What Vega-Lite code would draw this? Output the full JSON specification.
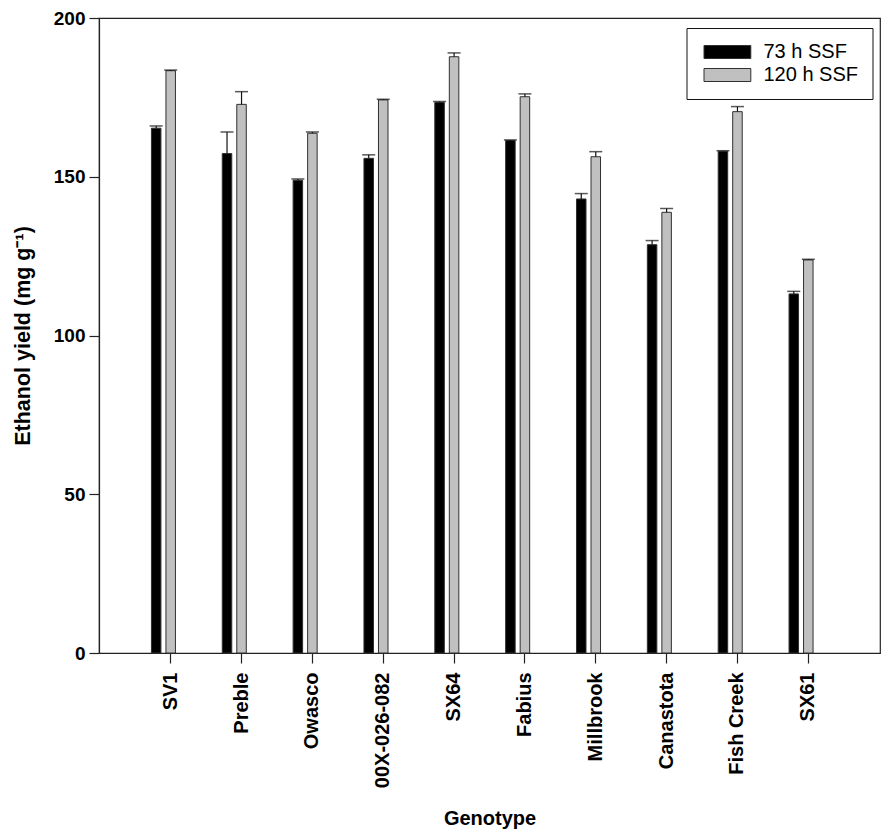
{
  "$schema": "https://vega.github.io/schema/vega-lite/v6.json",
  "autosize": "none",
  "padding": {"left": 99, "top": 18, "right": 12, "bottom": 187},
  "width": 781,
  "height": 635,
  "config": {
    "font": "Liberation Sans",
    "view": {"stroke": "#222", "strokeWidth": 1.2},
    "axis": {"grid": false, "domainColor": "#222", "tickColor": "#222", "labelColor": "#000", "titleColor": "#000", "domainWidth": 1.2, "tickWidth": 1.2}
  },
  "data": {
    "values": [
      {"genotype": "SV1", "series": "73 h SSF", "value": 165.3, "hi": 166.0},
      {"genotype": "SV1", "series": "120 h SSF", "value": 183.4, "hi": 183.6},
      {"genotype": "Preble", "series": "73 h SSF", "value": 157.3, "hi": 164.1},
      {"genotype": "Preble", "series": "120 h SSF", "value": 172.8, "hi": 176.8},
      {"genotype": "Owasco", "series": "73 h SSF", "value": 148.9, "hi": 149.3},
      {"genotype": "Owasco", "series": "120 h SSF", "value": 163.7, "hi": 164.1},
      {"genotype": "00X-026-082", "series": "73 h SSF", "value": 155.8, "hi": 156.9},
      {"genotype": "00X-026-082", "series": "120 h SSF", "value": 174.2, "hi": 174.4},
      {"genotype": "SX64", "series": "73 h SSF", "value": 173.4, "hi": 173.7},
      {"genotype": "SX64", "series": "120 h SSF", "value": 187.8, "hi": 189.0},
      {"genotype": "Fabius", "series": "73 h SSF", "value": 161.4, "hi": 161.6},
      {"genotype": "Fabius", "series": "120 h SSF", "value": 175.2, "hi": 176.1},
      {"genotype": "Millbrook", "series": "73 h SSF", "value": 143.0, "hi": 144.7},
      {"genotype": "Millbrook", "series": "120 h SSF", "value": 156.3, "hi": 157.9},
      {"genotype": "Canastota", "series": "73 h SSF", "value": 128.6, "hi": 129.9},
      {"genotype": "Canastota", "series": "120 h SSF", "value": 138.8, "hi": 140.0},
      {"genotype": "Fish Creek", "series": "73 h SSF", "value": 158.0, "hi": 158.2},
      {"genotype": "Fish Creek", "series": "120 h SSF", "value": 170.5, "hi": 172.1},
      {"genotype": "SX61", "series": "73 h SSF", "value": 113.1, "hi": 113.9},
      {"genotype": "SX61", "series": "120 h SSF", "value": 123.8, "hi": 124.0}
    ]
  },
  "encoding": {
    "x": {
      "field": "genotype", "type": "nominal", "sort": null,
      "scale": {"paddingInner": 0.456, "paddingOuter": 0.74},
      "axis": {
        "title": "Genotype", "titleFontSize": 20, "titleFontWeight": "bold", "titlePadding": 21,
        "labelAngle": -90, "labelAlign": "right", "labelBaseline": "middle",
        "labelFontSize": 20, "labelFontWeight": "bold", "labelPadding": 9, "tickSize": 10
      }
    },
    "xOffset": {
      "field": "series", "type": "nominal",
      "scale": {"domain": ["73 h SSF", "120 h SSF", "_pad"], "paddingInner": 0.345, "paddingOuter": 0}
    }
  },
  "layer": [
    {
      "mark": {"type": "bar", "stroke": "#303030", "strokeWidth": 1},
      "encoding": {
        "y": {
          "field": "value", "type": "quantitative",
          "scale": {"domain": [0, 200], "nice": false},
          "axis": {
            "title": "Ethanol yield (mg g⁻¹)", "titleFontSize": 21.5, "titleFontWeight": "bold", "titlePadding": 19,
            "values": [0, 50, 100, 150, 200], "labelFontSize": 19, "labelFontWeight": "bold",
            "labelPadding": 4, "tickSize": 10
          }
        },
        "fill": {
          "field": "series", "type": "nominal",
          "scale": {"domain": ["73 h SSF", "120 h SSF"], "range": ["#000000", "#c0c0c0"]},
          "legend": {
            "title": null, "orient": "none", "legendX": 587.5, "legendY": 10,
            "strokeColor": "#111", "fillColor": "white", "padding": 14,
            "labelFontSize": 20, "labelFont": "Liberation Sans", "labelColor": "#000",
            "symbolType": "M-1,-1H6.2V1H-1Z", "symbolSize": 169, "symbolStrokeWidth": 1,
            "symbolStrokeColor": "#303030", "symbolOpacity": 1, "labelOffset": 43, "rowPadding": 3
          }
        }
      }
    },
    {
      "mark": {"type": "rule", "color": "#111", "strokeWidth": 1.2},
      "encoding": {
        "y": {"field": "value", "type": "quantitative"},
        "y2": {"field": "hi"}
      }
    },
    {
      "mark": {"type": "tick", "color": "#111", "size": 13, "thickness": 1.5},
      "encoding": {
        "y": {"field": "hi", "type": "quantitative"}
      }
    }
  ]
}
